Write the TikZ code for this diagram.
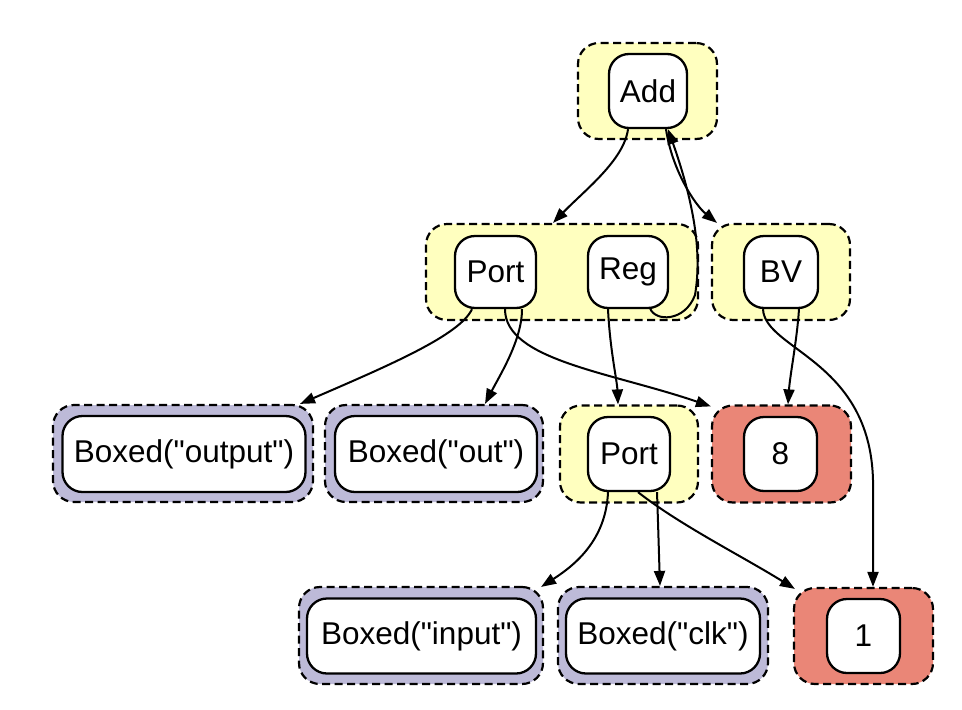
\documentclass[tikz,border=0pt]{standalone}
\usepackage{fontspec}
\newfontfamily\lib{Liberation Sans}
\usetikzlibrary{arrows.meta}
\definecolor{yel}{HTML}{FFFFBF}
\definecolor{pur}{HTML}{BDBAD8}
\definecolor{sal}{HTML}{EA8677}
\begin{document}
\begin{tikzpicture}[x=1pt,y=-1pt,
  cluster/.style={draw, dash pattern=on 8pt off 4.5pt, line width=2.2pt, rounded corners=21pt, inner sep=0pt},
  inode/.style={draw, fill=white, line width=2.3pt, rounded corners=20pt, inner sep=0pt,
    font=\lib\fontsize{31.5}{37}\selectfont},
  edge/.style={-{Triangle[length=15pt,width=11pt]}, line width=2pt}]
\useasboundingbox (0,0) rectangle (962,710);
% clusters
\node[cluster, fill=yel, minimum width=139pt, minimum height=96pt] (cAdd) at (647.5,91) {};
\node[cluster, fill=yel, minimum width=272pt, minimum height=96pt] (cMid) at (562,272) {};
\node[cluster, fill=yel, minimum width=138pt, minimum height=96pt] (cBV) at (781,272) {};
\node[cluster, fill=pur, minimum width=260pt, minimum height=97pt] (cOutput) at (183,453.5) {};
\node[cluster, fill=pur, minimum width=218pt, minimum height=97pt] (cOut) at (434,453.5) {};
\node[cluster, fill=yel, minimum width=138pt, minimum height=97pt] (cPort2) at (629,454) {};
\node[cluster, fill=sal, minimum width=139pt, minimum height=97pt] (c8) at (781.5,454) {};
\node[cluster, fill=pur, minimum width=244pt, minimum height=97pt] (cInput) at (421,635.5) {};
\node[cluster, fill=pur, minimum width=210pt, minimum height=97pt] (cClk) at (663,635.5) {};
\node[cluster, fill=sal, minimum width=139pt, minimum height=96pt] (c1) at (863.5,636) {};
% inner nodes
\node[inode, minimum width=78pt, minimum height=74pt] (Add) at (648,91) {Add};
\node[inode, minimum width=81pt, minimum height=72pt] (Port1) at (495.5,272) {Port};
\node[inode, minimum width=80pt, minimum height=72pt] (Reg) at (628,272) {Reg};
\node[inode, minimum width=74pt, minimum height=72pt] (BV) at (781,272) {BV};
\node[inode, minimum width=243pt, minimum height=76pt] (Output) at (184,454) {Boxed("output")};
\node[inode, minimum width=202pt, minimum height=76pt] (Out) at (436,454) {Boxed("out")};
\node[inode, minimum width=82pt, minimum height=74pt] (Port2) at (629,454) {Port};
\node[inode, minimum width=73pt, minimum height=74pt] (N8) at (780.5,454) {8};
\node[inode, minimum width=229pt, minimum height=75pt] (Input) at (421.5,636) {Boxed("input")};
\node[inode, minimum width=194pt, minimum height=75pt] (Clk) at (663,636) {Boxed("clk")};
\node[inode, minimum width=73pt, minimum height=74pt] (N1) at (863.5,636) {1};
% edges
\draw[edge] ([xshift=-20pt]Add.south) .. controls (624,160) and (585,190) .. ([xshift=-9pt]cMid.north);
\draw[edge] ([xshift=18pt]Add.south) .. controls (672,170) and (695,205) .. ([xshift=-64pt]cBV.north);
\draw[edge] ([xshift=22pt,yshift=1pt]Reg.south) .. controls (655,322) and (685,322) .. (695,295)
  .. controls (700,265) and (700,220) .. ([xshift=20pt]Add.south);
\draw[edge] ([xshift=-23.5pt]Port1.south) .. controls (460,335) and (390,365) .. ([xshift=117pt]cOutput.north);
\draw[edge] ([xshift=26.5pt]Port1.south) .. controls (522,340) and (500,375) .. ([xshift=51pt]cOut.north);
\draw[edge] ([xshift=9.5pt]Port1.south) .. controls (505,360) and (610,372) .. ([yshift=-2pt]c8.north west);
\draw[edge] ([xshift=-20pt]Reg.south) .. controls (610,350) and (617,380) .. ([xshift=-11pt]cPort2.north);
\draw[edge] ([xshift=18pt]BV.south) .. controls (797,340) and (790,375) .. ([xshift=6.5pt]c8.north);
\draw[edge] ([xshift=-18pt]BV.south) .. controls (765,350) and (870,360) .. (873,480) -- ([xshift=9.5pt]c1.north);
\draw[edge] ([xshift=-21pt]Port2.south) .. controls (606,540) and (575,565) .. ([xshift=-3pt,yshift=-1pt]cInput.north east);
\draw[edge] ([xshift=28pt]Port2.south) .. controls (658,520) and (659,555) .. ([xshift=-3pt]cClk.north);
\draw[edge] ([xshift=9pt]Port2.south) .. controls (680,525) and (740,555) .. ([xshift=2pt,yshift=-2pt]c1.north west);
\end{tikzpicture}
\end{document}
